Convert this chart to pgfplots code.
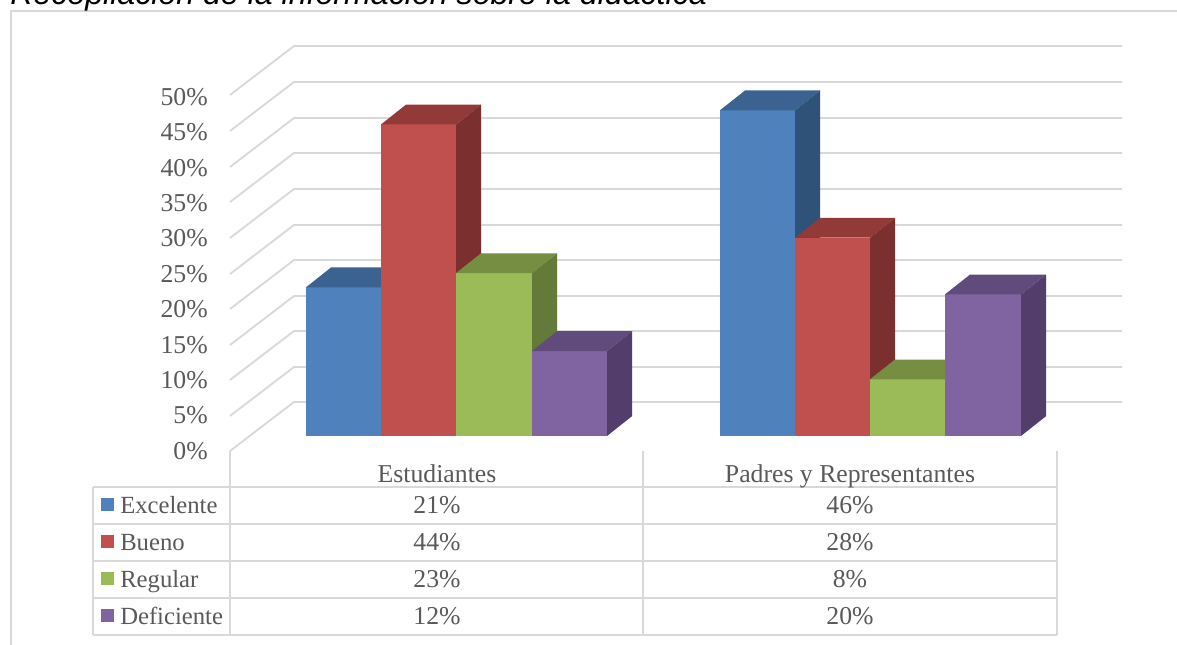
\documentclass[border=0pt]{standalone}
\usepackage{pgfplots}
\pgfplotsset{compat=1.18}
\usepackage{fontspec}
\setmainfont{Liberation Serif}
\newfontfamily\titlefont{Liberation Sans}
\definecolor{gridc}{HTML}{D9D9D9}
\definecolor{txt}{HTML}{595959}
\definecolor{fb}{HTML}{4F81BD}\definecolor{tb}{HTML}{3B6290}\definecolor{sb}{HTML}{2F5279}
\definecolor{fr}{HTML}{C0504D}\definecolor{tr}{HTML}{923A38}\definecolor{sr}{HTML}{7B302F}
\definecolor{fg}{HTML}{9BBB59}\definecolor{tg}{HTML}{768E42}\definecolor{sg}{HTML}{647A38}
\definecolor{fp}{HTML}{8064A2}\definecolor{tp}{HTML}{614A7C}\definecolor{sp}{HTML}{533E6B}
\pgfplotsset{base/.style={at={(0,0)},anchor=south west,width=882.75pt,height=483.75pt,scale only axis,xmin=0,xmax=1177,axis lines=none,clip=false},
 gl/.style={draw=gridc,line width=1.4pt},
 tl/.style={draw=gridc,line width=1.6pt}}
\begin{document}
\begin{tikzpicture}[x=1pt,y=1pt]
\path[use as bounding box] (0,0) rectangle (882.75pt,483.75pt);
\clip (0,0) rectangle (882.75pt,483.75pt);
% pixel axis: frame, walls, table
\begin{axis}[base,y dir=reverse,ymin=0,ymax=645]
\addplot[draw=gridc,line width=1.1pt] coordinates {(11,645)(11,11)(1177,11)};
\addplot[gl] coordinates {(230,95)(294,46)(1122,46)};
\addplot[gl] coordinates {(230,131)(294,82)(1122,82)};
\addplot[gl] coordinates {(230,167)(294,118)(1122,118)};
\addplot[gl] coordinates {(230,202)(294,153)(1122,153)};
\addplot[gl] coordinates {(230,238)(294,189)(1122,189)};
\addplot[gl] coordinates {(230,274)(294,225)(1122,225)};
\addplot[gl] coordinates {(230,309)(294,260)(1122,260)};
\addplot[gl] coordinates {(230,345)(294,296)(1122,296)};
\addplot[gl] coordinates {(230,380)(294,331)(1122,331)};
\addplot[gl] coordinates {(230,416)(294,367)(1122,367)};
\addplot[gl] coordinates {(230,451)(294,402)(1122,402)};
\addplot[tl] coordinates {(93,487)(1057,487)};
\addplot[tl] coordinates {(93,524)(1057,524)};
\addplot[tl] coordinates {(93,561)(1057,561)};
\addplot[tl] coordinates {(93,598)(1057,598)};
\addplot[tl] coordinates {(93,635)(1057,635)};
\addplot[tl] coordinates {(93,487)(93,635)};
\addplot[tl] coordinates {(230,451)(230,635)};
\addplot[tl] coordinates {(643,451)(643,635)};
\addplot[tl] coordinates {(1057,451)(1057,635)};
\addplot[draw=none,fill=fb] coordinates {(101,498)(114,498)(114,511)(101,511)} -- cycle;
\addplot[draw=none,fill=fr] coordinates {(101,535)(114,535)(114,548)(101,548)} -- cycle;
\addplot[draw=none,fill=fg] coordinates {(101,572)(114,572)(114,585)(101,585)} -- cycle;
\addplot[draw=none,fill=fp] coordinates {(101,609)(114,609)(114,622)(101,622)} -- cycle;
\node[anchor=base west,inner sep=0,font=\titlefont\itshape\fontsize{24.1}{24}\selectfont,text=black] at (axis cs:10,5) {Recopilación de la información sobre la didáctica};
\tikzset{tt/.style={inner sep=0,text=txt,font=\fontsize{19.3}{19.3}\selectfont},
 ll/.style={inner sep=0,text=txt,font=\fontsize{18.5}{18.5}\selectfont}}
\node[ll,anchor=base west] at (axis cs:120,513) {Excelente};
\node[ll,anchor=base west] at (axis cs:120,550) {Bueno};
\node[ll,anchor=base west] at (axis cs:120,587) {Regular};
\node[ll,anchor=base west] at (axis cs:120,624) {Deficiente};
\node[tt,anchor=base] at (axis cs:437,482) {Estudiantes};
\node[tt,anchor=base] at (axis cs:850,482) {Padres y Representantes};
\node[tt,anchor=base] at (axis cs:437,513) {21\%};
\node[tt,anchor=base] at (axis cs:850,513) {46\%};
\node[tt,anchor=base] at (axis cs:437,550) {44\%};
\node[tt,anchor=base] at (axis cs:850,550) {28\%};
\node[tt,anchor=base] at (axis cs:437,587) {23\%};
\node[tt,anchor=base] at (axis cs:850,587) {8\%};
\node[tt,anchor=base] at (axis cs:437,624) {12\%};
\node[tt,anchor=base] at (axis cs:850,624) {20\%};
\end{axis}
% bars: y is the percentage, 0 at the bars' front base
\begin{axis}[base,ymin=-29.52,ymax=61.58]
% Estudiantes
\addplot[draw=none,fill=fb] coordinates {(306,0)(381,0)(381,21)(306,21)} -- cycle;
\addplot[draw=none,fill=tb] coordinates {(306,21)(381,21)(406,23.8)(331,23.8)} -- cycle;
\addplot[draw=none,fill=sb] coordinates {(381,0)(406,2.8)(406,23.8)(381,21)} -- cycle;
\addplot[draw=none,fill=fr] coordinates {(381,0)(456,0)(456,44)(381,44)} -- cycle;
\addplot[draw=none,fill=tr] coordinates {(381,44)(456,44)(481,46.8)(406,46.8)} -- cycle;
\addplot[draw=none,fill=sr] coordinates {(456,0)(481,2.8)(481,46.8)(456,44)} -- cycle;
\addplot[draw=none,fill=fg] coordinates {(456,0)(532,0)(532,23)(456,23)} -- cycle;
\addplot[draw=none,fill=tg] coordinates {(456,23)(532,23)(557,25.8)(481,25.8)} -- cycle;
\addplot[draw=none,fill=sg] coordinates {(532,0)(557,2.8)(557,25.8)(532,23)} -- cycle;
\addplot[draw=none,fill=fp] coordinates {(532,0)(607,0)(607,12)(532,12)} -- cycle;
\addplot[draw=none,fill=tp] coordinates {(532,12)(607,12)(632,14.8)(557,14.8)} -- cycle;
\addplot[draw=none,fill=sp] coordinates {(607,0)(632,2.8)(632,14.8)(607,12)} -- cycle;
% Padres y Representantes
\addplot[draw=none,fill=fb] coordinates {(720,0)(795,0)(795,46)(720,46)} -- cycle;
\addplot[draw=none,fill=tb] coordinates {(720,46)(795,46)(820,48.8)(745,48.8)} -- cycle;
\addplot[draw=none,fill=sb] coordinates {(795,0)(820,2.8)(820,48.8)(795,46)} -- cycle;
\addplot[draw=none,fill=fr] coordinates {(795,0)(870,0)(870,28)(795,28)} -- cycle;
\addplot[draw=none,fill=tr] coordinates {(795,28)(870,28)(895,30.8)(820,30.8)} -- cycle;
\addplot[draw=none,fill=sr] coordinates {(870,0)(895,2.8)(895,30.8)(870,28)} -- cycle;
\addplot[draw=none,fill=fg] coordinates {(870,0)(945,0)(945,8)(870,8)} -- cycle;
\addplot[draw=none,fill=tg] coordinates {(870,8)(945,8)(970,10.8)(895,10.8)} -- cycle;
\addplot[draw=none,fill=sg] coordinates {(945,0)(970,2.8)(970,10.8)(945,8)} -- cycle;
\addplot[draw=none,fill=fp] coordinates {(945,0)(1021,0)(1021,20)(945,20)} -- cycle;
\addplot[draw=none,fill=tp] coordinates {(945,20)(1021,20)(1046,22.8)(970,22.8)} -- cycle;
\addplot[draw=none,fill=sp] coordinates {(1021,0)(1046,2.8)(1046,22.8)(1021,20)} -- cycle;
\end{axis}
% value axis tick labels, along the front of the left wall
\begin{axis}[at={(0,0)},anchor=south west,width=882.75pt,height=483.75pt,scale only axis,
 xmin=0,xmax=1177,ymin=-27.4,ymax=63.7,
 axis x line=none,axis y line=none,clip=false]
\pgfplotsinvokeforeach{0,5,...,50}{\node[anchor=east,inner sep=0,text=txt,font=\fontsize{19.3}{19.3}\selectfont] at (axis cs:208,#1) {#1\%};}
\end{axis}
\end{tikzpicture}
\end{document}
